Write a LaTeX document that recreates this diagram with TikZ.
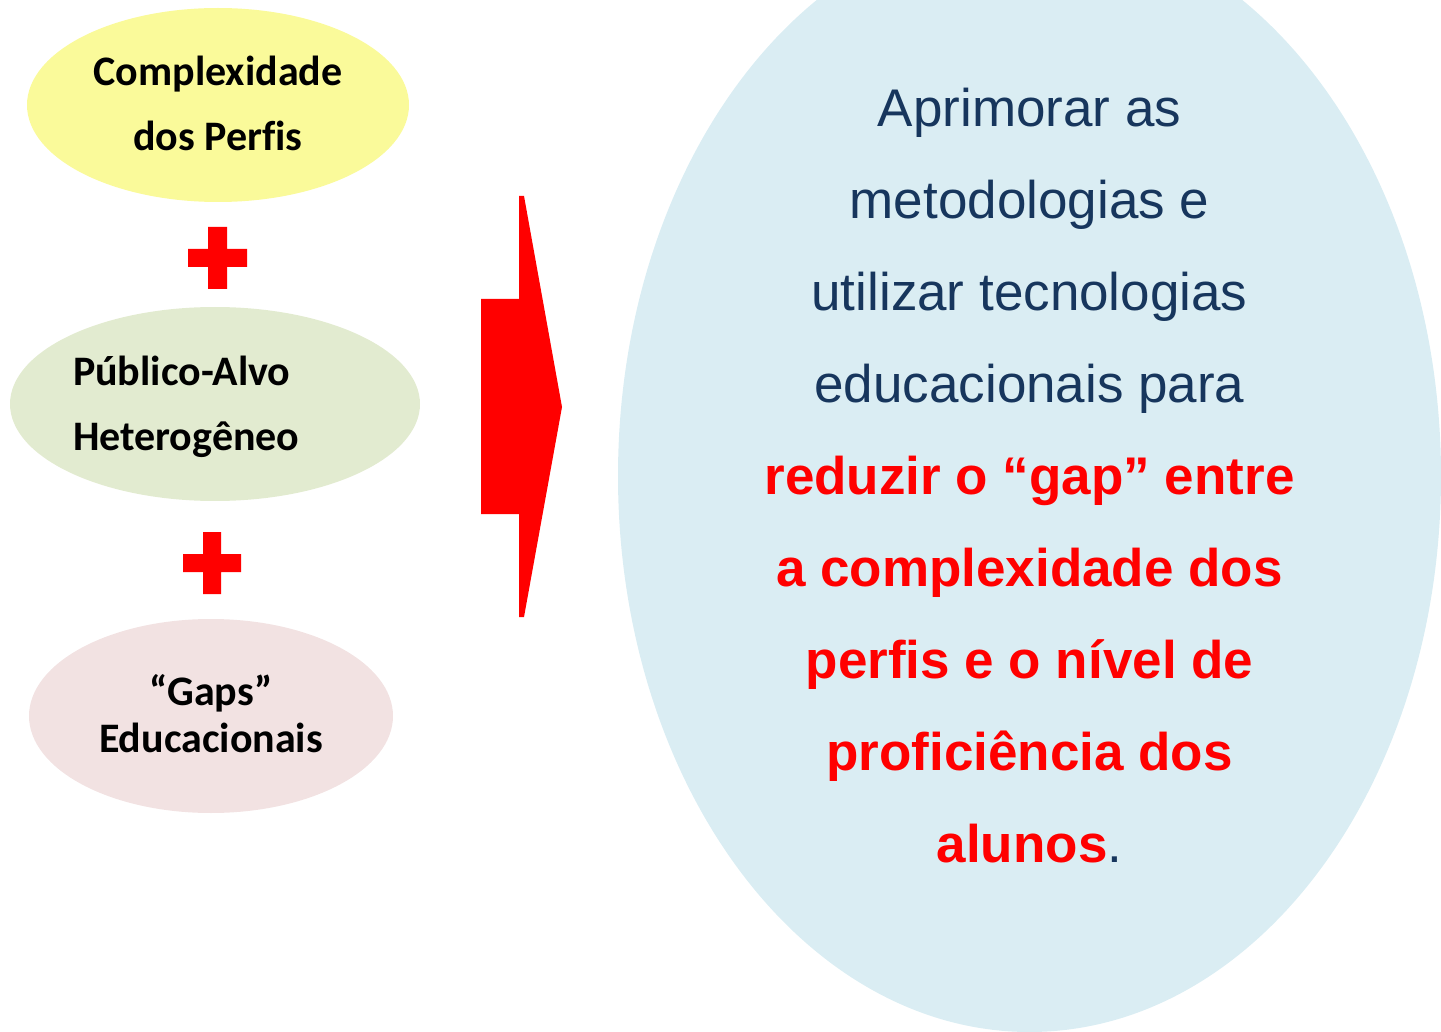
\documentclass[tikz,border=0pt]{standalone}
\usepackage{fontspec}
\setmainfont{Liberation Sans}
\newfontfamily\carlito[Ligatures=CommonOff]{Carlito}
\usetikzlibrary{shapes.geometric}
\definecolor{perfilfill}{HTML}{FAFA9A}
\definecolor{publicofill}{HTML}{E2EBD0}
\definecolor{gapsfill}{HTML}{F2E2E2}
\definecolor{metafill}{HTML}{DAEDF3}
\definecolor{metablue}{HTML}{17365D}
\definecolor{metared}{HTML}{FF0000}
\tikzset{
        bubble/.style={ellipse, inner sep=0pt, draw=none},
        perfil/.style={bubble, fill=perfilfill, minimum width=191pt, minimum height=97pt},
        publico/.style={bubble, fill=publicofill, minimum width=205pt, minimum height=97pt},
        gaps/.style={bubble, fill=gapsfill, minimum width=182pt, minimum height=97pt},
        meta/.style={bubble, fill=metafill, minimum width=411.5pt, minimum height=556pt},
        bubbletext/.style={inner sep=0pt, text=black, font={\carlito\bfseries\fontsize{21}{32.5}\selectfont}},
        metatext/.style={inner sep=0pt, align=center, text=metablue, font={\fontsize{26.5}{46}\selectfont}},
        cross/.style={fill=metared},
        bigarrow/.style={fill=metared}
          }

\begin{document}
\begin{tikzpicture}[x=0.5pt,y=-0.5pt]
  \useasboundingbox (0,0) rectangle (1441,1032);
  % left column
  \node[perfil] (perfil) at (218,105) {};
  \node[publico] (publico) at (215,404) {};
  \node[gaps] (gaps) at (211,716) {};
  \node[bubbletext, align=center] (perfiltxt) at ([yshift=1pt]perfil.center) {Complexidade\\dos Perfis};
  \node[bubbletext, align=left, anchor=west] (publicotxt) at ([xshift=31.5pt,yshift=-1.5pt]publico.west) {Público-Alvo\\Heterogêneo};
  \node[bubbletext, align=center, font={\carlito\bfseries\fontsize{21}{23.5}\selectfont}] (gapstxt) at ([yshift=1pt]gaps.center) {“Gaps”\\Educacionais};
  % plus signs
  \fill[cross] (208,227) rectangle (227,289) (188,249) rectangle (247,267);
  \fill[cross] (203,532) rectangle (221,594) (183,554) rectangle (241,572);
  % arrow
  \fill[bigarrow] (481,299) -- (519,299) -- (519,196) -- (524,196) -- (562,407)
    -- (524,617) -- (519,617) -- (519,514) -- (481,514) -- cycle;
  % goal
  \begin{scope}
    \clip (0,0) rectangle (1441,1032);
    \node[meta] (meta) at (1029.5,476) {};
  \end{scope}
  \node[metatext] (metatxt) at (meta.center) {Aprimorar as\\metodologias e\\utilizar tecnologias\\educacionais para\\
    {\color{metared}\bfseries reduzir o “gap” entre}\\{\color{metared}\bfseries a complexidade dos}\\
    {\color{metared}\bfseries perfis e o nível de}\\{\color{metared}\bfseries proficiência dos}\\{\color{metared}\bfseries alunos}.};
\end{tikzpicture}
\end{document}
